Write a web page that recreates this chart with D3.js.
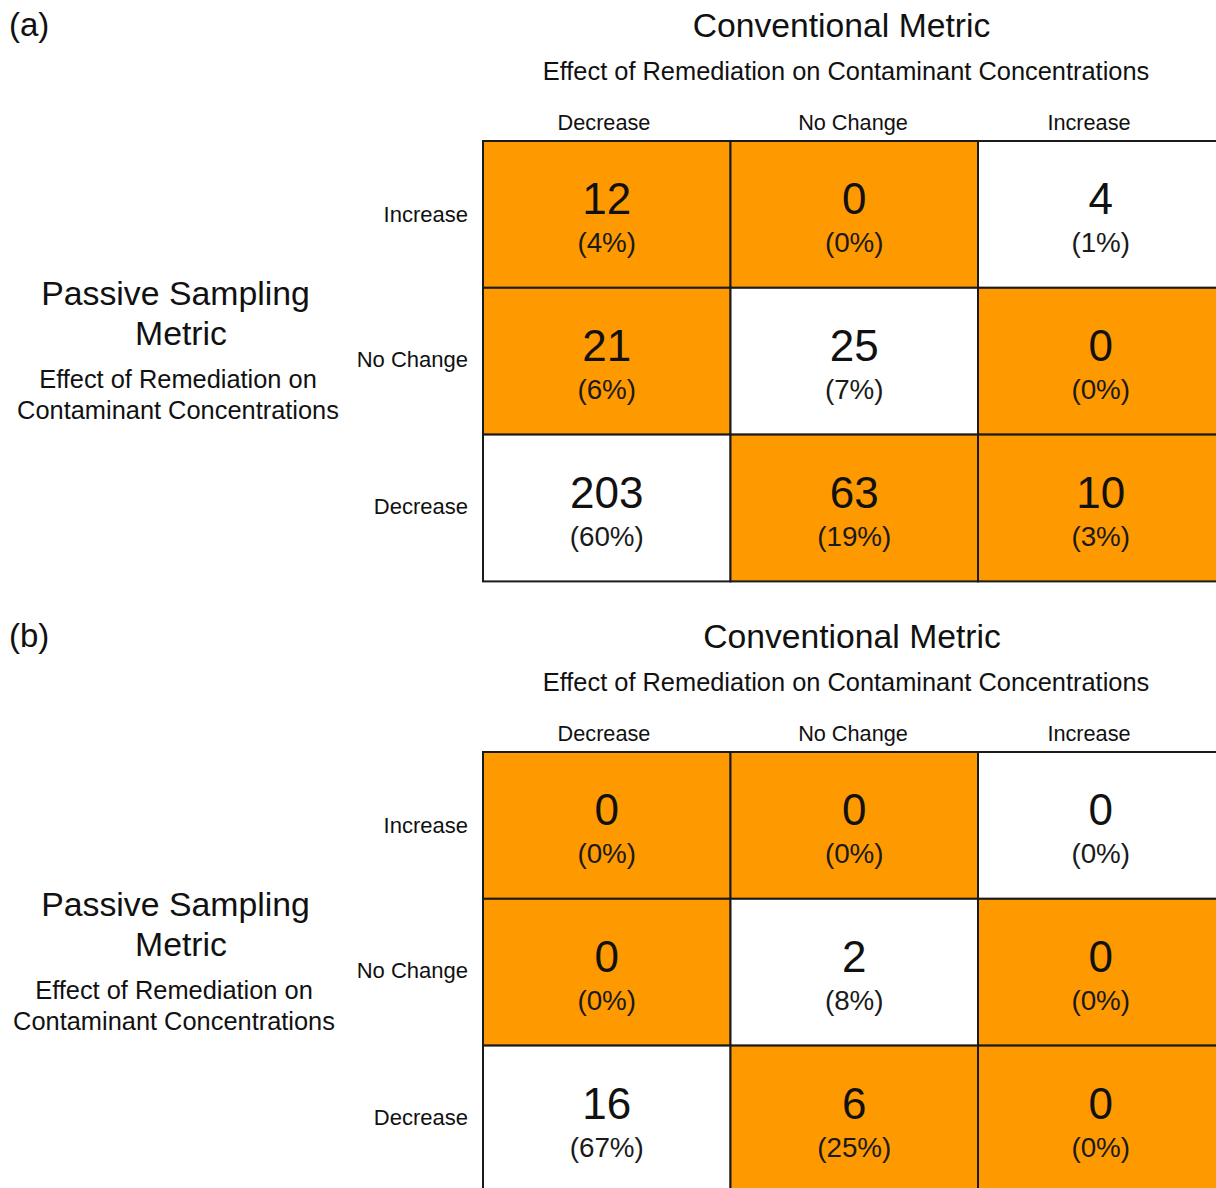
<!DOCTYPE html>
<html>
<head>
<meta charset="utf-8">
<script src="https://cdn.jsdelivr.net/npm/d3@7"></script>
<style>
  html, body { margin: 0; padding: 0; background: #fff; }
  svg { display: block; font-family: "Liberation Sans", Arial, sans-serif; }
</style>
</head>
<body>
<svg id="chart" width="1216" height="1188"></svg>
<script>
// Passive sampling outcome (rows) vs conventional outcome (columns)
const rowCategories = ["Increase", "No Change", "Decrease"];
const colCategories = ["Decrease", "No Change", "Increase"];

// Panel (a)
const countsA = [
  [12, 0, 4],
  [21, 25, 0],
  [203, 63, 10]
];
const pctA = [
  [4, 0, 1],
  [6, 7, 0],
  [60, 19, 3]
];

// Panel (b)
const countsB = [
  [0, 0, 0],
  [0, 2, 0],
  [16, 6, 0]
];
const pctB = [
  [0, 0, 0],
  [0, 8, 0],
  [67, 25, 0]
];

const panelLabels = ["(a)", "(b)"];
const colTitle = "Conventional Metric";
const colSubtitle = "Effect of Remediation on Contaminant Concentrations";
const rowTitle = ["Passive Sampling", "Metric"];
const rowSubtitle = ["Effect of Remediation on", "Contaminant Concentrations"];

const ORANGE = "#ff9900";
const svg = d3.select("#chart");

function drawPanel(offsetY, label, counts, pcts, opts) {
  const g = svg.append("g").attr("transform", `translate(0,${offsetY})`);

  const x = d3.scaleBand().domain(colCategories).range([483, 483 + 3 * 247.5]);
  const y = d3.scaleBand().domain(rowCategories).range([141, 141 + 3 * 146.8]);

  // panel letter
  g.append("text").attr("x", 9).attr("y", 36)
    .attr("font-size", 33).attr("fill", "#111").text(label);

  // column heading block
  g.append("text").attr("x", opts.titleX).attr("y", 37).attr("text-anchor", "middle")
    .attr("font-size", 33.7).attr("fill", "#111").text(colTitle);
  g.append("text").attr("x", 846).attr("y", 80).attr("text-anchor", "middle")
    .attr("font-size", 25.4).attr("fill", "#111").text(colSubtitle);

  // column category labels
  const colCenters = [604, 853, 1089];
  g.selectAll(".colLab").data(colCategories).join("text")
    .attr("x", (d, i) => colCenters[i])
    .attr("y", 130).attr("text-anchor", "middle")
    .attr("font-size", 21.7).attr("fill", "#111").text(d => d);

  // row category labels
  const rowNudge = [7.5, 6, 6];
  g.selectAll(".rowLab").data(rowCategories).join("text")
    .attr("x", 468).attr("y", (d, i) => y(d) + y.bandwidth() / 2 + rowNudge[i])
    .attr("text-anchor", "end")
    .attr("font-size", 22).attr("fill", "#111").text(d => d);

  // row heading block
  g.append("text").attr("x", 175.5).attr("y", 305)
    .attr("text-anchor", "middle").attr("font-size", 33.8).attr("fill", "#111").text(rowTitle[0]);
  g.append("text").attr("x", 181).attr("y", 345)
    .attr("text-anchor", "middle").attr("font-size", 33.8).attr("fill", "#111").text(rowTitle[1]);
  rowSubtitle.forEach((t, i) => {
    g.append("text").attr("x", opts.subX).attr("y", 388 + i * 30.5)
      .attr("text-anchor", "middle").attr("font-size", 25.4).attr("fill", "#111").text(t);
  });

  // cells
  const cells = [];
  rowCategories.forEach((r, ri) => {
    colCategories.forEach((c, ci) => {
      cells.push({ r, c, n: counts[ri][ci], p: pcts[ri][ci], agree: r === c });
    });
  });

  const cell = g.selectAll(".cell").data(cells).join("g")
    .attr("transform", d => `translate(${x(d.c)},${y(d.r)})`);

  cell.append("rect")
    .attr("width", x.bandwidth()).attr("height", y.bandwidth())
    .attr("fill", d => d.agree ? "#fff" : ORANGE)
    .attr("stroke", "#1a1a1a").attr("stroke-width", 2);

  cell.append("text")
    .attr("x", d => x.bandwidth() / 2 + (d.c === "Increase" ? -1 : 0))
    .attr("y", 73).attr("text-anchor", "middle")
    .attr("font-size", 44).attr("fill", "#111").text(d => d.n);

  cell.append("text")
    .attr("x", d => x.bandwidth() / 2 + (d.c === "Increase" ? -1 : 0))
    .attr("y", 111).attr("text-anchor", "middle")
    .attr("font-size", 27.8).attr("fill", "#1a1a1a").text(d => `(${d.p}%)`);
}

drawPanel(0, panelLabels[0], countsA, pctA, { titleX: 841.5, subX: 178 });
drawPanel(611, panelLabels[1], countsB, pctB, { titleX: 852, subX: 174 });
</script>
</body>
</html>
